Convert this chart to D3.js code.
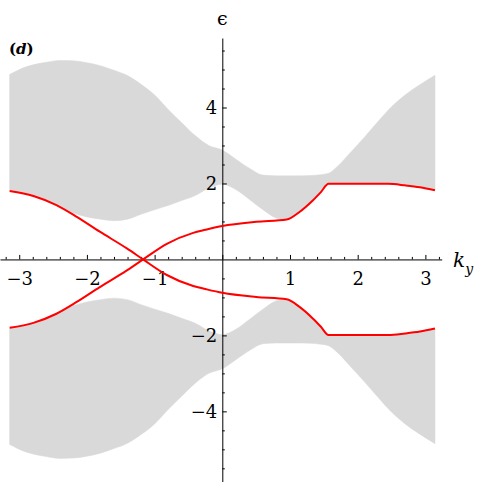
<!DOCTYPE html>
<html>
<head>
<meta charset="utf-8">
<script src="https://cdn.jsdelivr.net/npm/d3@7"></script>
<style>
  body { margin: 0; background: #fff; }
</style>
</head>
<body>
<div id="chart"></div>
<script>
// tick labels
const kyTicks = [-3, -2, -1, 1, 2, 3];
const epsTicks = [-4, -2, 2, 4];

// bulk bands (grey), edges
const bandKy = [-3.1416, -2.9, -2.6, -2.4, -2.2, -2.0, -1.8, -1.6, -1.4, -1.2, -1.0, -0.8, -0.6, -0.4, -0.2, 0,
  0.2, 0.4, 0.6, 0.8, 0.95, 1.1, 1.3, 1.45, 1.57, 1.7, 1.9, 2.1, 2.3, 2.5, 2.7, 2.9, 3.1416];
const upperBandTop = [4.87, 5.07, 5.19, 5.24, 5.23, 5.18, 5.10, 4.98, 4.84, 4.61, 4.33, 3.95, 3.60, 3.26, 3.00, 2.88,
  2.64, 2.40, 2.22, 2.20, 2.20, 2.20, 2.21, 2.23, 2.27, 2.45, 2.83, 3.22, 3.63, 4.02, 4.33, 4.58, 4.85];
const upperBandBottom = [1.82, 1.72, 1.53, 1.38, 1.22, 1.12, 1.06, 1.02, 1.06, 1.19, 1.31, 1.42, 1.55, 1.68, 1.88, 1.98,
  1.84, 1.58, 1.31, 1.09, 1.05, 1.19, 1.48, 1.74, 1.98, 1.99, 1.99, 1.99, 1.99, 1.98, 1.95, 1.90, 1.82];
const lowerBandTop = [-1.82, -1.72, -1.53, -1.38, -1.22, -1.12, -1.06, -1.02, -1.06, -1.19, -1.31, -1.42, -1.55, -1.68, -1.88, -1.98,
  -1.84, -1.58, -1.31, -1.09, -1.05, -1.19, -1.48, -1.74, -1.98, -1.99, -1.99, -1.99, -1.99, -1.98, -1.95, -1.90, -1.82];
const lowerBandBottom = [-4.87, -5.07, -5.19, -5.24, -5.23, -5.18, -5.10, -4.98, -4.84, -4.61, -4.33, -3.95, -3.60, -3.26, -3.00, -2.88,
  -2.64, -2.40, -2.22, -2.20, -2.20, -2.20, -2.21, -2.23, -2.27, -2.45, -2.83, -3.22, -3.63, -4.02, -4.33, -4.58, -4.85];

// edge states (red)
const edgeKy = [-3.1416, -2.79, -2.45, -2.15, -1.81, -1.41, -1.17, -0.82, -0.43, -0.25, 0, 0.5, 0.95, 1.14, 1.34, 1.45,
  1.57, 2.0, 2.45, 2.7, 2.92, 3.1416];
const edgeStateA = [1.80, 1.67, 1.43, 1.12, 0.73, 0.29, 0.0, -0.41, -0.70, -0.78, -0.88, -0.99, -1.05, -1.25, -1.56, -1.76,
  -1.99, -1.99, -1.99, -1.95, -1.90, -1.82];
const edgeStateB = [-1.80, -1.67, -1.43, -1.12, -0.73, -0.29, 0.0, 0.41, 0.70, 0.78, 0.88, 0.99, 1.05, 1.25, 1.56, 1.76,
  1.99, 1.99, 1.99, 1.95, 1.90, 1.82];

const width = 479, height = 482;
const serif = 'DejaVu Serif';

const svg = d3.select('#chart')
  .append('svg')
  .attr('width', width)
  .attr('height', height);

const x = d3.scaleLinear().domain([-3.284, 3.241]).range([0, 441.7]);
const y = d3.scaleLinear().domain([5.83, -5.86]).range([38, 482]);

// grey bands
const area = d3.area()
  .x(d => x(d.k))
  .y0(d => y(d.lo))
  .y1(d => y(d.hi))
  .curve(d3.curveMonotoneX);

const upperBand = bandKy.map((k, i) => ({ k: k, lo: upperBandBottom[i], hi: upperBandTop[i] }));
const lowerBand = bandKy.map((k, i) => ({ k: k, lo: lowerBandBottom[i], hi: lowerBandTop[i] }));

svg.append('g')
  .selectAll('path')
  .data([upperBand, lowerBand])
  .enter()
  .append('path')
  .attr('d', area)
  .style('fill', '#d9d9d9')
  .style('stroke', '#d9d9d9')
  .style('stroke-width', 0.5);

// axes
const x0 = x(0), y0 = y(0);

// minor ticks every 0.2 on k_y, every 0.5 on epsilon
const xMinor = svg.append('g')
  .attr('transform', `translate(0,${y0})`)
  .call(d3.axisBottom(x)
    .tickValues(d3.range(-16, 17).filter(v => v % 5 !== 0).map(v => v / 5))
    .tickSize(-2.5)
    .tickFormat(''));
xMinor.select('.domain').remove();

svg.append('g')
  .attr('transform', `translate(0,${y0})`)
  .call(d3.axisBottom(x)
    .tickValues([-3, -2, -1, 0, 1, 2, 3])
    .tickSizeInner(-4.5)
    .tickSizeOuter(0)
    .tickPadding(13)
    .tickFormat(d => kyTicks.includes(d) ? d3.format('d')(d) : ''));

const yMinor = svg.append('g')
  .attr('transform', `translate(${x0},0)`)
  .call(d3.axisLeft(y)
    .tickValues(d3.range(-11, 12).filter(v => v % 4 !== 0).map(v => v / 2))
    .tickSize(-2.5)
    .tickFormat(''));
yMinor.select('.domain').remove();

svg.append('g')
  .attr('transform', `translate(${x0},0)`)
  .call(d3.axisLeft(y)
    .tickValues(epsTicks)
    .tickSizeInner(-4.5)
    .tickSizeOuter(0)
    .tickPadding(5)
    .tickFormat(d3.format('d')));

svg.selectAll('g').attr('font-family', serif);
svg.selectAll('.tick text')
  .attr('font-family', serif)
  .attr('font-size', 18)
  .attr('fill', '#000');
svg.selectAll('.domain, .tick line').style('stroke', '#000').style('stroke-width', 1);

// red edge states
const line = d3.line()
  .x(d => x(d.k))
  .y(d => y(d.e))
  .curve(d3.curveMonotoneX);

svg.append('g')
  .selectAll('path')
  .data([edgeStateA, edgeStateB].map(s => edgeKy.map((k, i) => ({ k: k, e: s[i] }))))
  .enter()
  .append('path')
  .attr('d', line)
  .style('fill', 'none')
  .style('stroke', '#ff0000')
  .style('stroke-width', 2);

// labels
svg.append('text')
  .attr('x', x0)
  .attr('y', 25)
  .attr('text-anchor', 'middle')
  .attr('font-family', serif)
  .attr('font-size', 19)
  .text('\u03F5');

const kLabel = svg.append('text')
  .attr('x', 453)
  .attr('y', 267)
  .attr('font-family', serif)
  .attr('font-size', 20)
  .attr('font-style', 'italic');
kLabel.append('tspan').text('k');
kLabel.append('tspan')
  .attr('dy', 7)
  .attr('font-size', 14)
  .text('y');

const panel = svg.append('text')
  .attr('x', 9)
  .attr('y', 54)
  .attr('font-family', serif)
  .attr('font-size', 15)
  .attr('font-weight', 'bold');
panel.append('tspan').text('(');
panel.append('tspan').attr('font-style', 'italic').text('d');
panel.append('tspan').text(')');
</script>
</body>
</html>
